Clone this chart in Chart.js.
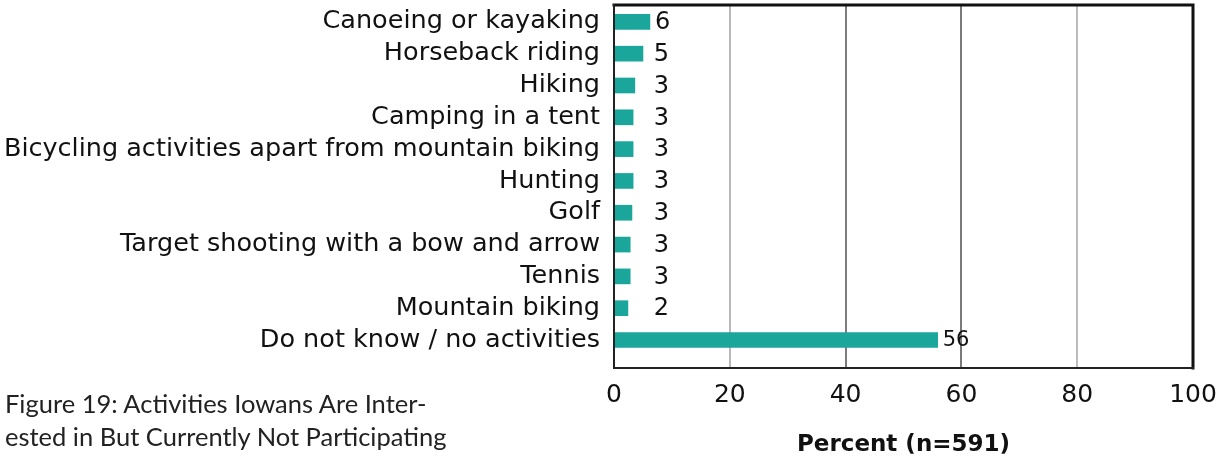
<!DOCTYPE html>
<html>
<head>
<meta charset="utf-8">
<script src="https://cdn.jsdelivr.net/npm/chart.js@4"></script>
<style>
  body { margin: 0; background: #fff; }
  #wrap { position: relative; width: 1220px; height: 463px; }
  #caption {
    position: absolute; left: 5px; top: 387px;
    font-family: Lato, "Open Sans", sans-serif; font-size: 25.5px; line-height: 33px; color: #222;
  }
</style>
</head>
<body>
<div id="wrap">
  <canvas id="chart" width="1220" height="463"></canvas>
  <div id="caption">Figure 19: Activities Iowans Are Inter-<br>ested in But Currently Not Participating</div>
</div>
<script>
// categories, top to bottom
const activities = [
  'Canoeing or kayaking',
  'Horseback riding',
  'Hiking',
  'Camping in a tent',
  'Bicycling activities apart from mountain biking',
  'Hunting',
  'Golf',
  'Target shooting with a bow and arrow',
  'Tennis',
  'Mountain biking',
  'Do not know / no activities'
];
// percent
const percents = [6.2, 5.0, 3.6, 3.3, 3.3, 3.3, 3.1, 2.8, 2.8, 2.4, 55.9];
// printed labels next to the bars
const printedLabels = ['6', '5', '3', '3', '3', '3', '3', '3', '3', '2', '56'];
const xTicks = [0, 20, 40, 60, 80, 100];

const gridColors = { 20: '#b8b8b8', 40: '#7d7d7d', 60: '#7a7a7a', 80: '#bdbdbd' };
const labelFont = 'DejaVu Sans, sans-serif';

// draws the box around the plot
const frame = {
  id: 'frame',
  afterDatasetsDraw(chart) {
    const { ctx, chartArea: a } = chart;
    ctx.save();
    ctx.lineCap = 'square';
    ctx.strokeStyle = '#111';
    ctx.lineWidth = 3;
    ctx.beginPath();
    ctx.moveTo(a.left, a.top); ctx.lineTo(a.right, a.top); ctx.lineTo(a.right, a.bottom);
    ctx.stroke();
    ctx.lineWidth = 2;
    ctx.strokeStyle = '#222';
    ctx.beginPath();
    ctx.moveTo(a.left, a.top); ctx.lineTo(a.left, a.bottom); ctx.lineTo(a.right, a.bottom);
    ctx.stroke();
    ctx.restore();
  }
};

// value labels, the small ones all sit in one column
const valueLabels = {
  id: 'valueLabels',
  afterDatasetsDraw(chart) {
    const { ctx } = chart;
    const xs = chart.scales.x, ys = chart.scales.y;
    ctx.save();
    ctx.fillStyle = '#111';
    ctx.textBaseline = 'middle';
    percents.forEach((v, i) => {
      ctx.font = (v > 20 ? '21px ' : '24px ') + labelFont;
      const x = Math.max(xs.getPixelForValue(v), xs.getPixelForValue(6)) + 5;
      ctx.fillText(printedLabels[i], x, ys.getPixelForValue(i) + 1);
    });
    ctx.restore();
  }
};

new Chart(document.getElementById('chart'), {
  type: 'bar',
  data: {
    datasets: [{
      data: percents.map((v, i) => ({ x: v, y: i })),
      backgroundColor: '#1ba69b',
      barThickness: 15
    }]
  },
  options: {
    indexAxis: 'y',
    responsive: false,
    animation: false,
    layout: { padding: { top: 5, right: 27, left: 0, bottom: 0 } },
    plugins: { legend: { display: false }, tooltip: { enabled: false } },
    scales: {
      x: {
        type: 'linear',
        min: 0, max: 100,
        afterBuildTicks: s => { s.ticks = xTicks.map(v => ({ value: v })); },
        afterFit: s => { s.height = 95; s.paddingLeft = 0; s.paddingRight = 0; },
        border: { display: false },
        grid: {
          drawTicks: false,
          lineWidth: 2,
          color: c => gridColors[c.tick && c.tick.value] || 'rgba(0,0,0,0)'
        },
        ticks: { color: '#111', padding: 12, font: { family: labelFont, size: 25 } },
        title: {
          display: true, text: 'Percent (n=591)', color: '#111',
          font: { family: labelFont, size: 23, weight: 'bold' }, padding: { top: 18 }
        }
      },
      y: {
        type: 'linear',
        reverse: true,
        offset: false,
        min: -0.53, max: 10.88,
        afterBuildTicks: s => { s.ticks = activities.map((a, i) => ({ value: i })); },
        afterFit: s => { s.width = 614; s.paddingTop = 0; s.paddingBottom = 0; },
        border: { display: false },
        grid: { display: false, offset: false },
        ticks: {
          color: '#111', padding: 6, autoSkip: false,
          font: { family: labelFont, size: 25.5 },
          callback: v => activities[v]
        }
      }
    }
  },
  plugins: [frame, valueLabels]
});
</script>
</body>
</html>
